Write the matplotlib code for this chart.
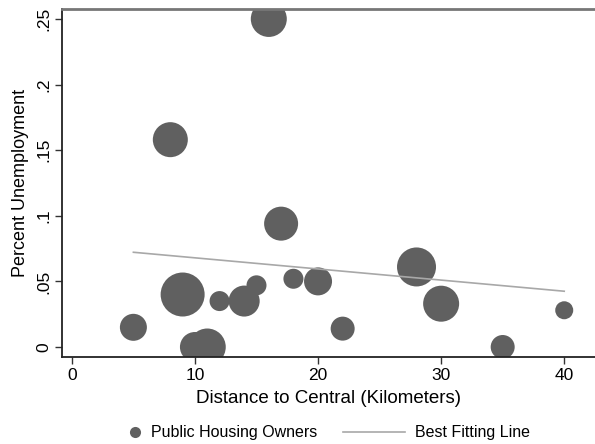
import matplotlib.pyplot as plt
from matplotlib.lines import Line2D
import numpy as np

plt.rcParams["font.family"] = ["Liberation Sans", "DejaVu Sans"]

# Bubble data: distance (km), unemployment share, bubble diameter (relative weight)
distance = [5, 8, 9, 10, 11, 12, 14, 15, 16, 17, 18, 20, 22, 28, 30, 35, 40]
unemployment = [0.015, 0.158, 0.040, 0.0, 0.0, 0.035, 0.035, 0.047, 0.25,
                0.094, 0.052, 0.050, 0.014, 0.061, 0.033, 0.0, 0.028]
weight = [27, 35, 44, 30, 37, 20, 31, 20, 36, 34, 20, 28, 24, 39, 36, 24, 18]

# Fitted line end points
fit_x = [5, 40]
fit_y = [0.0722, 0.0425]

xticks = [0, 10, 20, 30, 40]
yticks = [0, 0.05, 0.1, 0.15, 0.2, 0.25]
ytick_labels = ["0", ".05", ".1", ".15", ".2", ".25"]

fig = plt.figure(figsize=(5.95, 4.44), dpi=100)
ax = fig.add_axes([0.1042, 0.196, 0.8958, 0.7838])

px_to_pt = 72 / fig.dpi
sizes = [(w * px_to_pt) ** 2 for w in weight]
ax.scatter(distance, unemployment, s=sizes, color="#606060", edgecolor="none",
           zorder=2)
ax.plot(fit_x, fit_y, color="#a8a8a8", lw=1.2, zorder=3)

ax.set_xlim(-0.8, 42.5)
ax.set_ylim(-0.0076, 0.2576)
ax.set_xticks(xticks)
ax.set_yticks(yticks)
ax.set_yticklabels(ytick_labels, rotation=90, va="center")
ax.tick_params(labelsize=12.5, length=5, width=1, color="#333333", pad=3)

ax.spines["right"].set_visible(False)
ax.spines["top"].set_color("#777777")
ax.spines["top"].set_linewidth(2)
for s in ["left", "bottom"]:
    ax.spines[s].set_color("#222222")
    ax.spines[s].set_linewidth(1.3)

ax.set_xlabel("Distance to Central (Kilometers)", fontsize=13.5, labelpad=5)
ax.set_ylabel("Percent Unemployment", fontsize=13, labelpad=5)

dot = Line2D([], [], marker="o", color="none", markerfacecolor="#606060",
             markeredgecolor="none", markersize=8)
fit_handle = Line2D([], [], color="#a8a8a8", lw=1.2)

leg1 = fig.legend([dot], ["Public Housing Owners"], loc="center left",
                  bbox_to_anchor=(0.2134, 0.025), frameon=False, fontsize=11.5,
                  handlelength=1.0, handletextpad=0.5, borderpad=0,
                  borderaxespad=0)
leg2 = fig.legend([fit_handle], ["Best Fitting Line"], loc="center left",
                  bbox_to_anchor=(0.5765, 0.025), frameon=False, fontsize=11.5,
                  handlelength=3.9, handletextpad=0.6, borderpad=0,
                  borderaxespad=0)

fig.savefig("out.png", dpi=100)
